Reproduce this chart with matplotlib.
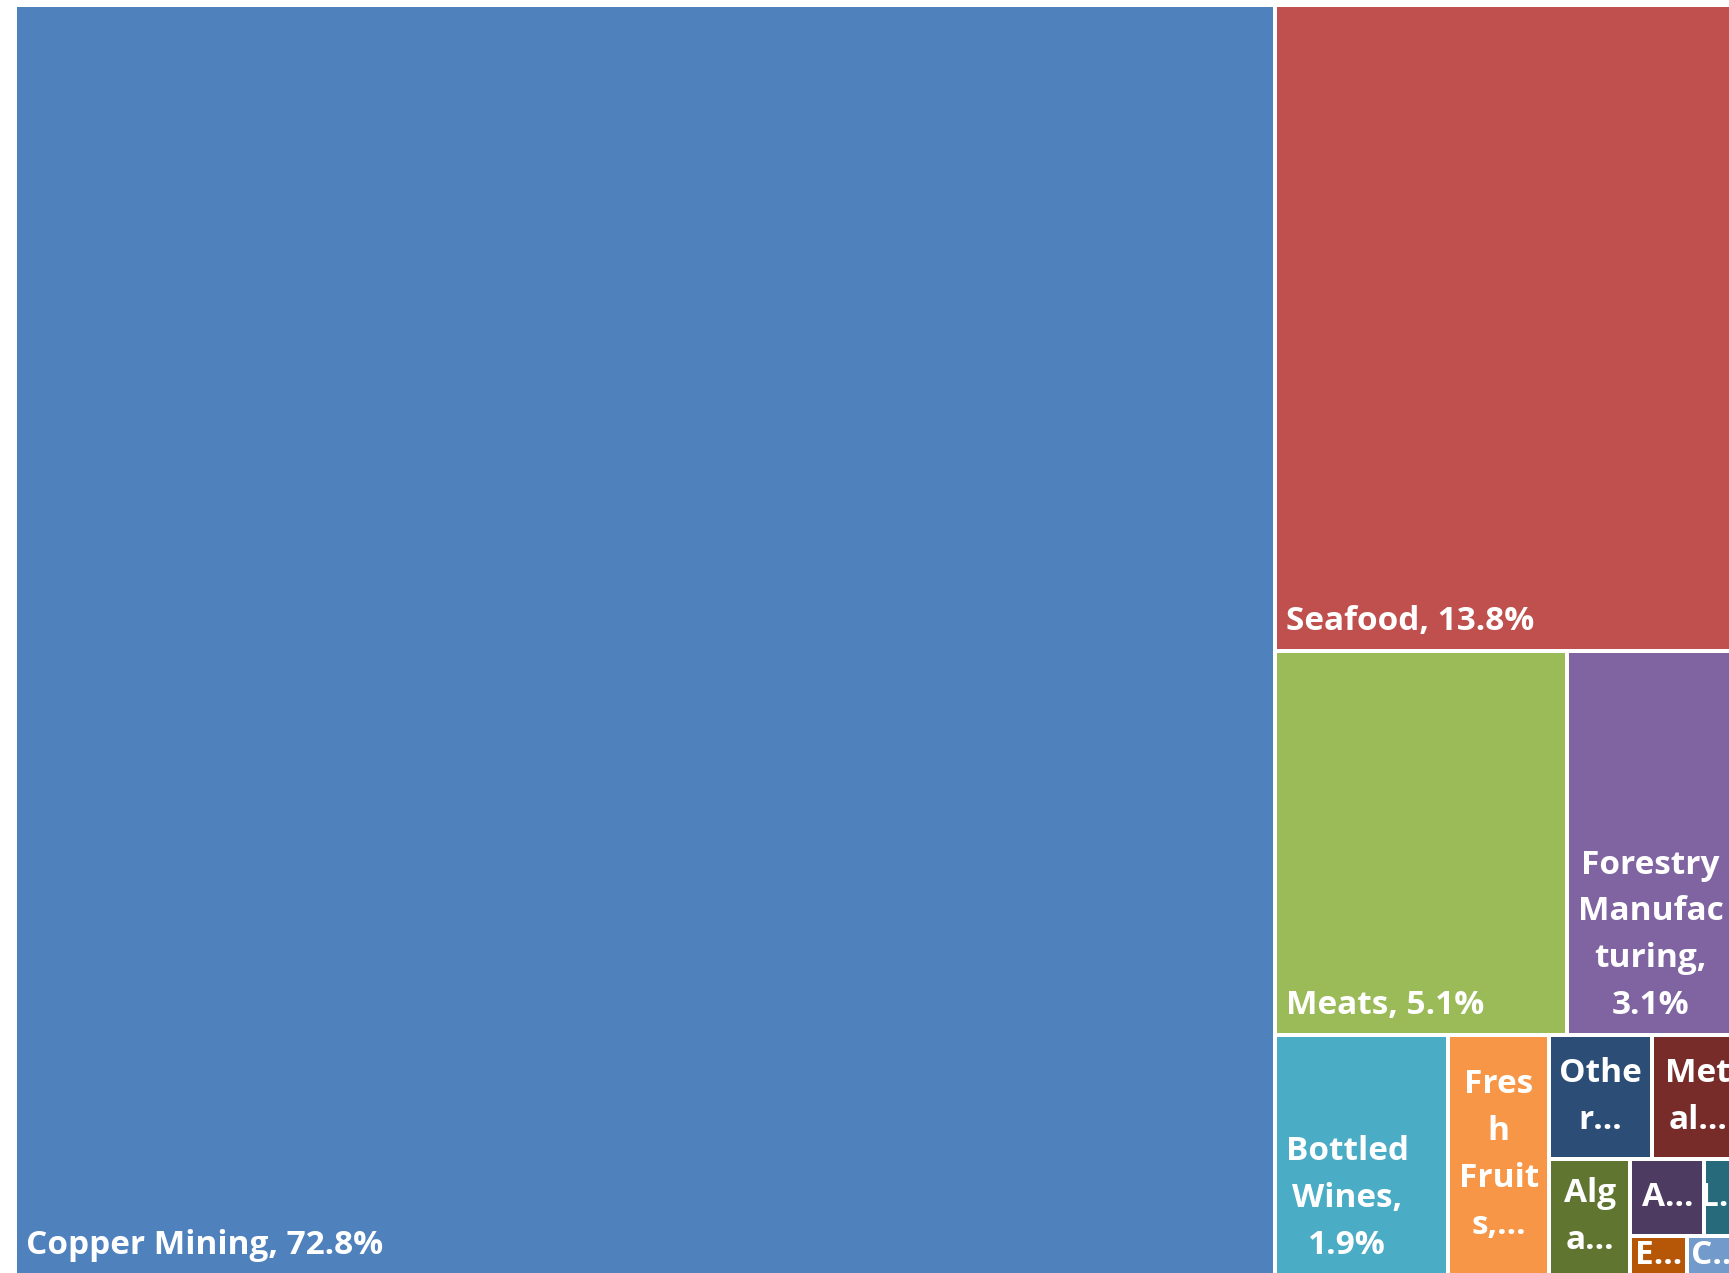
import matplotlib
matplotlib.use("Agg")
import matplotlib.pyplot as plt
from matplotlib.patches import Rectangle

# ---- data (share of exports, %) ----
categories = ["Copper Mining", "Seafood", "Meats", "Forestry Manufacturing",
              "Bottled Wines", "Fresh Fruits", "Other", "Metal", "Algae",
              "A", "L", "E", "C"]
values = [72.8, 13.8, 5.1, 3.1, 1.9, 1.1, 0.58, 0.52, 0.43, 0.26, 0.14, 0.10, 0.10]
labels = ["Copper Mining, 72.8%", "Seafood, 13.8%", "Meats, 5.1%",
          "Forestry\nManufac\nturing,\n3.1%", "Bottled\nWines,\n1.9%",
          "Fres\nh\nFruit\ns,\u2026", "Othe\nr\u2026", "Met\nal\u2026",
          "Alg\na\u2026", "A\u2026", "L\u2026", "E\u2026", "C\u2026"]
colors = ["#4F81BD", "#C0504D", "#9BBB59", "#8064A2", "#4BACC6", "#F79646",
          "#2C4D75", "#772C2A", "#5F7530", "#4D3B62", "#276A7C", "#B65708",
          "#729ACA"]
# number of items placed in each successive strip of the treemap
strip_counts = [1, 1, 2, 1, 1, 2, 1, 2, 1, 1]

# ---- layout geometry (plot area, in pixels) ----
FIG_W, FIG_H, DPI = 1729, 1273, 100
W, H = 1729.0, 1270.0
LEFT_PX, TOP_PX = 15, 5


def treemap(vals, counts, x, y, w, h):
    rects = []
    i = 0
    for c in counts:
        group = vals[i:i + c]
        s = sum(group)
        rem = sum(vals[i:])
        if w >= h:
            sw = w * s / rem
            yy = y
            for v in group:
                hh = h * v / s
                rects.append((x, yy, sw, hh))
                yy += hh
            x += sw
            w -= sw
        else:
            sh = h * s / rem
            xx = x
            for v in group:
                ww = w * v / s
                rects.append((xx, y, ww, sh))
                xx += ww
            y += sh
            h -= sh
        i += c
    return rects


fig = plt.figure(figsize=(FIG_W / DPI, FIG_H / DPI), dpi=DPI)
ax = fig.add_axes([LEFT_PX / FIG_W, (FIG_H - TOP_PX - H) / FIG_H, W / FIG_W, H / FIG_H])
ax.set_xlim(0, W)
ax.set_ylim(H, 0)
ax.axis("off")

rects = treemap(values, strip_counts, 0, 0, W, H)
lw_pt = 4 * 72 / DPI
font = dict(family=["Open Sans", "DejaVu Sans"], weight="bold", size=24, color="white")

for (x, y, w, h), lab, col in zip(rects, labels, colors):
    ax.add_patch(Rectangle((x, y), w, h, facecolor=col, edgecolor="white",
                           linewidth=lw_pt))
    if "\u2026" in lab:
        ax.text(x + w / 2, y + h / 2, lab, ha="center", va="center",
                multialignment="center", linespacing=1.55, **font)
    else:
        ax.text(x + 11, y + h - 21, lab, ha="left", va="baseline",
                multialignment="center", linespacing=1.55, **font)

fig.savefig("out.png", dpi=DPI, facecolor="white")
